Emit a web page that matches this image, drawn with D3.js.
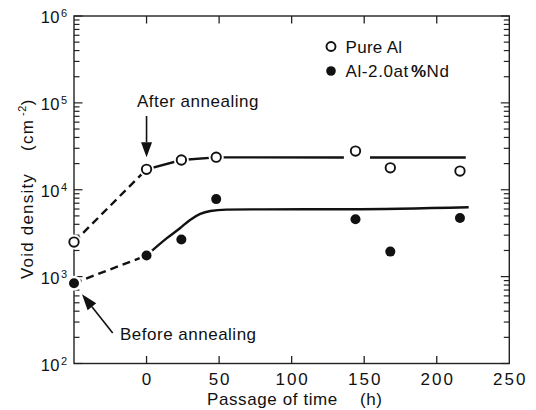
<!DOCTYPE html>
<html><head><meta charset="utf-8">
<script src="https://cdn.jsdelivr.net/npm/d3@7/dist/d3.min.js"></script>
<style>
html,body{margin:0;padding:0;background:#fff;}
svg{display:block;}
text{font-family:"Liberation Sans",Arial,Helvetica,sans-serif;fill:#111;}
</style></head>
<body>
<svg id="chart" width="536" height="410"></svg>
<script>
// ---- data ----
const timeHours = [-50, 0, 24, 48, 144, 168, 216];
const pureAl = [2500, 17200, 22000, 23700, 27900, 17900, 16400];
const alNd   = [840, 1750, 2670, 7800, 4570, 1940, 4730];

// guide lines
const pureAlDashX = [-50, 0];
const pureAlDashY = [2500, 17200];
const pureAlFitX1 = [0, 24, 48, 136];
const pureAlFitY1 = [17200, 22000, 23600, 23500];
const pureAlFitX2 = [154, 220];
const pureAlFitY2 = [23500, 23500];
const alNdDashX = [-50, 0];
const alNdDashY = [840, 1750];
const alNdFitX = [0, 14, 23, 30, 37, 44, 55, 80, 140, 222];
const alNdFitY = [1750, 2770, 3610, 4490, 5270, 5700, 5900, 5950, 5970, 6300];

const xTicks = [0, 50, 100, 150, 200, 250];
const yDecades = [2, 3, 4, 5, 6];
const seriesNames = ["Pure Al", "Al-2.0at", "%", "Nd"];

// ---- layout ----
const svg = d3.select("#chart");
const L = 74, R = 509.3, T = 16, B = 363.5;
const x = d3.scaleLinear().domain([-50, 250]).range([L, R]);
const y = d3.scaleLog().domain([1e2, 1e6]).range([B, T]);
const ink = "#111";

// frame
svg.append("rect").attr("x", L).attr("y", T).attr("width", R - L).attr("height", B - T)
  .attr("fill", "none").attr("stroke", "#222").attr("stroke-width", 1.4);

// x ticks (inner, top & bottom)
const xt = xTicks.filter(d => d > -50 && d < 250);
xt.forEach(d => {
  svg.append("line").attr("x1", x(d)).attr("x2", x(d)).attr("y1", B).attr("y2", B - 7.5)
    .attr("stroke", "#222").attr("stroke-width", 1.3);
  svg.append("line").attr("x1", x(d)).attr("x2", x(d)).attr("y1", T).attr("y2", T + 7.5)
    .attr("stroke", "#222").attr("stroke-width", 1.3);
});
xTicks.forEach(d => {
  svg.append("text").attr("x", x(d) + 1).attr("y", 385).attr("text-anchor", "middle")
    .attr("font-size", 17).attr("letter-spacing", 2).text(d);
});

// y ticks (log, inner both sides)
const yTickVals = [];
for (let e = 2; e < 6; e++) for (let m = 1; m < 10; m++) yTickVals.push(m * Math.pow(10, e));
yTickVals.push(1e6);
yTickVals.forEach(v => {
  const major = Math.abs(Math.log10(v) - Math.round(Math.log10(v))) < 1e-9;
  const len = major ? 8.5 : 5.5;
  svg.append("line").attr("x1", L).attr("x2", L + len).attr("y1", y(v)).attr("y2", y(v))
    .attr("stroke", "#222").attr("stroke-width", 1.2);
  svg.append("line").attr("x1", R).attr("x2", R - len).attr("y1", y(v)).attr("y2", y(v))
    .attr("stroke", "#222").attr("stroke-width", 1.2);
});
yDecades.forEach(e => {
  const yy = y(Math.pow(10, e));
  svg.append("text").attr("x", 60).attr("y", yy + 7).attr("text-anchor", "end")
    .attr("font-size", 16.5).attr("letter-spacing", 0.5).text("10");
  svg.append("text").attr("x", 61).attr("y", yy + 1).attr("font-size", 11).text(e);
});

// axis titles
svg.append("text").attr("x", 207).attr("y", 405).attr("font-size", 17).attr("letter-spacing", 0.6)
  .text("Passage of time").append("tspan").attr("dx", 22).text("(h)");
const yt = svg.append("text").attr("transform", "translate(33,279) rotate(-90)")
  .attr("font-size", 17).attr("letter-spacing", 1.2);
yt.append("tspan").text("Void density");
yt.append("tspan").attr("dx", 22).text("(cm");
yt.append("tspan").attr("dx", 3).attr("font-size", 11).attr("dy", -7).attr("letter-spacing", 0.5).text("-2");
yt.append("tspan").attr("dy", 7).text(")");

// lines
const line = d3.line().x(d => x(d[0])).y(d => y(d[1]));
const zip = (a, b) => a.map((v, i) => [v, b[i]]);
const curve = d3.line().x(d => x(d[0])).y(d => y(d[1])).curve(d3.curveMonotoneX);
const dash = "8,5";
svg.append("path").attr("d", line(zip(pureAlDashX, pureAlDashY))).attr("fill", "none")
  .attr("stroke", ink).attr("stroke-width", 2.4).attr("stroke-dasharray", dash);
svg.append("path").attr("d", line(zip(alNdDashX, alNdDashY))).attr("fill", "none")
  .attr("stroke", ink).attr("stroke-width", 2.4).attr("stroke-dasharray", dash);
svg.append("path").attr("d", line(zip(pureAlFitX1, pureAlFitY1))).attr("fill", "none")
  .attr("stroke", ink).attr("stroke-width", 2.4);
svg.append("path").attr("d", line(zip(pureAlFitX2, pureAlFitY2))).attr("fill", "none")
  .attr("stroke", ink).attr("stroke-width", 2.4);
svg.append("path").attr("d", curve(zip(alNdFitX, alNdFitY))).attr("fill", "none")
  .attr("stroke", ink).attr("stroke-width", 2.4);

// white halos to open gaps around markers
const pts1 = zip(timeHours, pureAl), pts2 = zip(timeHours, alNd);
[...pts1, ...pts2].forEach(p => {
  svg.append("circle").attr("cx", x(p[0])).attr("cy", y(p[1])).attr("r", 7.5).attr("fill", "#fff");
});
// markers
svg.selectAll(".open").data(pts1).join("circle").attr("class", "open")
  .attr("cx", d => x(d[0])).attr("cy", d => y(d[1])).attr("r", 4.7)
  .attr("fill", "#fff").attr("stroke", ink).attr("stroke-width", 1.9);
svg.selectAll(".fill").data(pts2).join("circle").attr("class", "fill")
  .attr("cx", d => x(d[0])).attr("cy", d => y(d[1])).attr("r", 5)
  .attr("fill", ink);

// annotations
function arrow(x1, y1, x2, y2, headLen, headW) {
  const a = Math.atan2(y2 - y1, x2 - x1);
  const bx = x2 - headLen * Math.cos(a), by = y2 - headLen * Math.sin(a);
  svg.append("line").attr("x1", x1).attr("y1", y1).attr("x2", bx).attr("y2", by)
    .attr("stroke", ink).attr("stroke-width", 1.6);
  const px = -Math.sin(a) * headW, py = Math.cos(a) * headW;
  svg.append("path").attr("d", `M${x2},${y2}L${bx + px},${by + py}L${bx - px},${by - py}Z`).attr("fill", ink);
}
const ax0 = x(timeHours[1]), ay0 = y(pureAl[1]);
arrow(ax0, 116, ax0, ay0 - 12, 15, 5.5);
svg.append("text").attr("x", 137).attr("y", 107).attr("font-size", 17).attr("letter-spacing", 0.5)
  .text("After annealing");
const bx0 = x(timeHours[0]), by0 = y(alNd[0]);
arrow(112.7, 333, bx0 + 8, by0 + 11, 16, 5.5);
svg.append("text").attr("x", 120).attr("y", 340).attr("font-size", 17).attr("letter-spacing", 0.5)
  .text("Before annealing");

// legend
svg.append("circle").attr("cx", 331).attr("cy", 46.5).attr("r", 4.5).attr("fill", "#fff")
  .attr("stroke", ink).attr("stroke-width", 1.9);
svg.append("text").attr("x", 345.5).attr("y", 52.5).attr("font-size", 17).attr("letter-spacing", 0.3)
  .text(seriesNames[0]);
svg.append("circle").attr("cx", 331).attr("cy", 71).attr("r", 4.8).attr("fill", ink);
const lt = svg.append("text").attr("x", 345.5).attr("y", 77).attr("font-size", 17).attr("letter-spacing", 0.6);
lt.append("tspan").text(seriesNames[1]);
lt.append("tspan").attr("dx", 2).attr("font-weight", "bold").text(seriesNames[2]);
lt.append("tspan").text(seriesNames[3]);
</script>
</body></html>
